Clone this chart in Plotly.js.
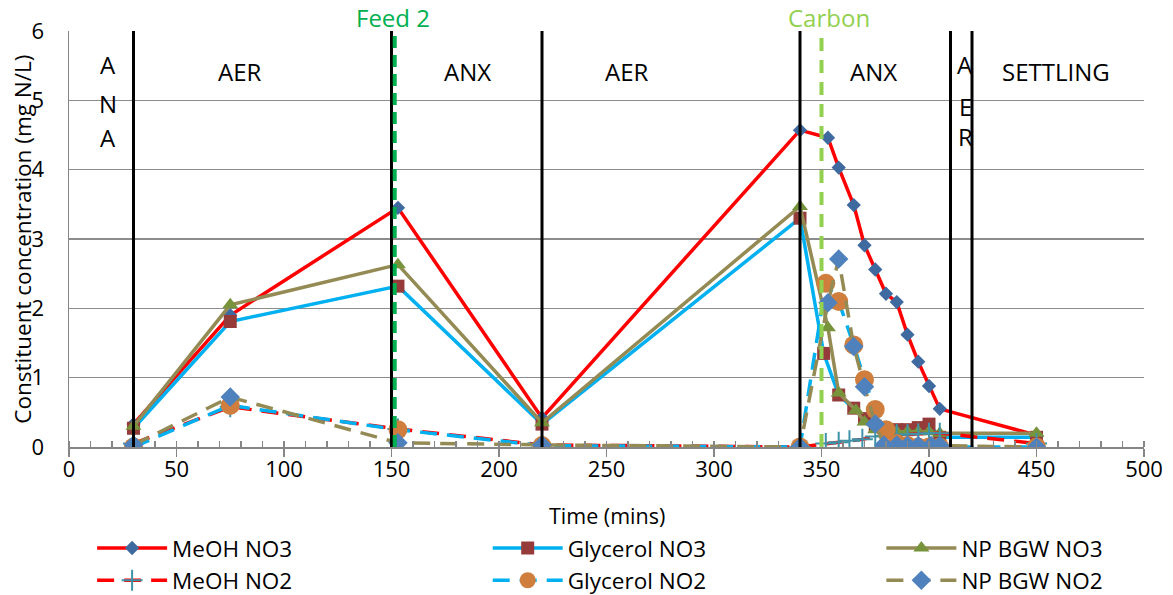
<!DOCTYPE html>
<html>
<head>
<meta charset="utf-8">
<script src="https://cdn.plot.ly/plotly-3.0.1.min.js"></script>
<style>html,body{margin:0;padding:0;background:#fff;}#chart{width:1173px;height:595px;}</style>
</head>
<body>
<div id="chart"></div>
<script>
// ---- data ----
const meohNO3X = [30, 75, 153, 220, 340, 353, 358, 365, 370, 375, 380, 385, 390, 395, 400, 405, 450];
const meohNO3Y = [0.33, 1.9, 3.45, 0.42, 4.57, 4.46, 4.03, 3.49, 2.91, 2.56, 2.21, 2.09, 1.62, 1.23, 0.88, 0.55, 0.17];

const glyNO3X = [30, 75, 153, 220, 340, 351, 358, 365, 370, 375, 380, 385, 390, 395, 400, 405, 450];
const glyNO3Y = [0.27, 1.81, 2.32, 0.33, 3.3, 1.35, 0.75, 0.56, 0.41, 0.3, 0.25, 0.25, 0.25, 0.28, 0.33, 0.14, 0.14];

const npNO3X = [30, 75, 153, 220, 340, 353, 358, 366, 370, 375, 380, 385, 390, 395, 400, 405, 450];
const npNO3Y = [0.3, 2.05, 2.63, 0.35, 3.47, 1.72, 0.78, 0.53, 0.36, 0.25, 0.22, 0.22, 0.22, 0.22, 0.22, 0.2, 0.2];

const meohNO2X = [30, 75, 153, 220, 340, 352, 358, 363, 369, 375, 380, 385, 390, 395, 400, 405, 450];
const meohNO2Y = [0.05, 0.58, 0.26, 0.03, 0, 0.05, 0.07, 0.09, 0.11, 0.15, 0.16, 0.18, 0.18, 0.19, 0.2, 0.2, 0.05];

const glyNO2X = [30, 75, 153, 220, 340, 352, 358, 365, 370, 375, 380, 385, 390, 395, 400, 405, 450];
const glyNO2Y = [0, 0.6, 0.25, 0.02, 0, 2.36, 2.1, 1.47, 0.97, 0.54, 0.25, 0.05, 0.02, 0, 0, 0, 0];

const npNO2X = [30, 75, 153, 220, 340, 353, 358, 365, 370, 375, 379, 385, 390, 395, 401, 405, 450];
const npNO2Y = [0.03, 0.72, 0.06, 0.03, 0, 2.08, 2.71, 1.45, 0.87, 0.33, 0.03, 0.03, 0.02, 0.02, 0.02, 0.02, 0];

const seriesNames = ['MeOH NO3', 'Glycerol NO3', 'NP BGW NO3', 'MeOH NO2', 'Glycerol NO2', 'NP BGW NO2'];

// phase boundaries and events
const phaseBounds = [30, 150, 220, 340, 410, 420];
const feedX = 151.5;
const carbonX = 350;
const eventLabels = ['Feed 2', 'Carbon'];
const eventLabelX = [150.7, 353.5];

// phase labels (single line)
const phaseText = ['AER', 'ANX', 'AER', 'ANX', 'SETTLING'];
const phaseTextX = [79.4, 185.3, 259.3, 374, 459];
const phaseTextY = 5.41;
// stacked phase labels
const stackedLetters = ['A', 'N', 'A', 'A', 'E', 'R'];
const stackedX = [18, 18, 18, 416.8, 416.8, 416.8];
const stackedY = [5.51, 4.96, 4.46, 5.51, 4.91, 4.48];

const xTicks = [0, 50, 100, 150, 200, 250, 300, 350, 400, 450, 500];
const yTicks = [0, 1, 2, 3, 4, 5, 6];

const FONT = 'Open Sans, Liberation Sans, sans-serif';
const dashPat = '17px,10px';

const traces = [
  {x: meohNO3X, y: meohNO3Y, name: seriesNames[0], legend: 'legend', mode: 'lines+markers',
   line: {color: '#FF0000', width: 3.5}, marker: {symbol: 'diamond', size: 11, color: '#3F6AA0'}},
  {x: glyNO3X, y: glyNO3Y, name: seriesNames[1], legend: 'legend2', mode: 'lines+markers',
   line: {color: '#00B0F0', width: 3.5}, marker: {symbol: 'square', size: 13, color: '#953C3A'}},
  {x: npNO3X, y: npNO3Y, name: seriesNames[2], legend: 'legend3', mode: 'lines+markers',
   line: {color: '#948A54', width: 3.5}, marker: {symbol: 'triangle-up', size: 14, color: '#77933C'}},
  {x: meohNO2X, y: meohNO2Y, name: seriesNames[3], legend: 'legend', mode: 'lines+markers',
   line: {color: '#FF0000', width: 3.5, dash: dashPat},
   marker: {symbol: 'cross-thin', size: 15, color: '#3F93A8', line: {color: '#3F93A8', width: 2}}},
  {x: glyNO2X, y: glyNO2Y, name: seriesNames[4], legend: 'legend2', mode: 'lines+markers',
   line: {color: '#00B0F0', width: 3.5, dash: dashPat}, marker: {symbol: 'circle', size: 19, color: '#CF7E3D'}},
  {x: npNO2X, y: npNO2Y, name: seriesNames[5], legend: 'legend3', mode: 'lines+markers',
   line: {color: '#948A54', width: 3.5, dash: dashPat}, marker: {symbol: 'diamond', size: 15, color: '#4F81BD'}}
];

const shapes = phaseBounds.map(b => ({
  type: 'line', xref: 'x', yref: 'paper', x0: b, x1: b, y0: 0, y1: 1, layer: 'above',
  line: {color: '#000000', width: 3}
}));
shapes.push({type: 'line', xref: 'x', yref: 'paper', x0: feedX, x1: feedX, y0: 0, y1: 1, layer: 'above',
  line: {color: '#00B050', width: 4, dash: '12px,7px'}});
shapes.push({type: 'line', xref: 'x', yref: 'paper', x0: carbonX, x1: carbonX, y0: 0, y1: 1, layer: 'above',
  line: {color: '#92D050', width: 4, dash: '13px,9px'}});

const annotations = [];
phaseText.forEach((t, i) => annotations.push({
  text: t, x: phaseTextX[i], y: phaseTextY, xref: 'x', yref: 'y', showarrow: false,
  font: {family: FONT, size: 24, color: '#000'}, xanchor: 'center', yanchor: 'middle'
}));
stackedLetters.forEach((t, i) => annotations.push({
  text: t, x: stackedX[i], y: stackedY[i], xref: 'x', yref: 'y', showarrow: false,
  font: {family: FONT, size: 24, color: '#000'}, xanchor: 'center', yanchor: 'middle'
}));
const eventColors = ['#00B050', '#92D050'];
eventLabels.forEach((t, i) => annotations.push({
  text: t, x: eventLabelX[i], y: 1.033, xref: 'x', yref: 'paper', showarrow: false,
  font: {family: FONT, size: 24, color: eventColors[i]}, xanchor: 'center', yanchor: 'middle'
}));
annotations.push({
  text: 'Constituent concentration (mg N/L)', textangle: -90, x: -0.044, y: 0.5,
  xref: 'paper', yref: 'paper', showarrow: false, xanchor: 'center', yanchor: 'middle',
  font: {family: FONT, size: 22.5, color: '#000'}
});
annotations.push({
  text: 'Time (mins)', x: 0.5, y: -0.164, xref: 'paper', yref: 'paper', showarrow: false,
  xanchor: 'center', yanchor: 'middle', font: {family: FONT, size: 21.5, color: '#000'}
});

const legendBase = {orientation: 'v', xanchor: 'left', yanchor: 'top', y: -0.192,
  bgcolor: 'rgba(0,0,0,0)', font: {family: FONT, size: 22.5, color: '#000'}, itemwidth: 70,
  tracegroupgap: 0};

const layout = {
  width: 1173, height: 595,
  margin: {l: 69, r: 29, t: 31, b: 148, autoexpand: false},
  paper_bgcolor: '#fff', plot_bgcolor: '#fff',
  font: {family: FONT, size: 22, color: '#000'},
  xaxis: {
    range: [0, 500], tickvals: xTicks, ticktext: xTicks.map(String),
    showgrid: false, zeroline: false, showline: true, linecolor: '#868686', linewidth: 1.5,
    ticks: 'outside', ticklen: 8, tickwidth: 1.5, tickcolor: '#868686', ticklabelstandoff: -6,
    minor: {ticks: 'inside', ticklen: 6, dtick: 10, tickcolor: '#868686', tickwidth: 1.5, showgrid: false},
    tickfont: {family: FONT, size: 22, color: '#000'}, fixedrange: true
  },
  yaxis: {
    range: [0, 6], tickvals: yTicks, ticktext: yTicks.map(String),
    showgrid: true, gridcolor: '#8C8C8C', gridwidth: 1.5, zeroline: false,
    showline: true, linecolor: '#868686', linewidth: 1.5, ticks: '', ticklabelstandoff: 19,
    tickfont: {family: FONT, size: 22, color: '#000'}, fixedrange: true
  },
  showlegend: true,
  legend: Object.assign({}, legendBase, {x: 0.0215}),
  legend2: Object.assign({}, legendBase, {x: 0.3895}),
  legend3: Object.assign({}, legendBase, {x: 0.7557}),
  shapes: shapes,
  annotations: annotations
};

Plotly.newPlot('chart', traces, layout, {displayModeBar: false, staticPlot: true});
</script>
</body>
</html>
